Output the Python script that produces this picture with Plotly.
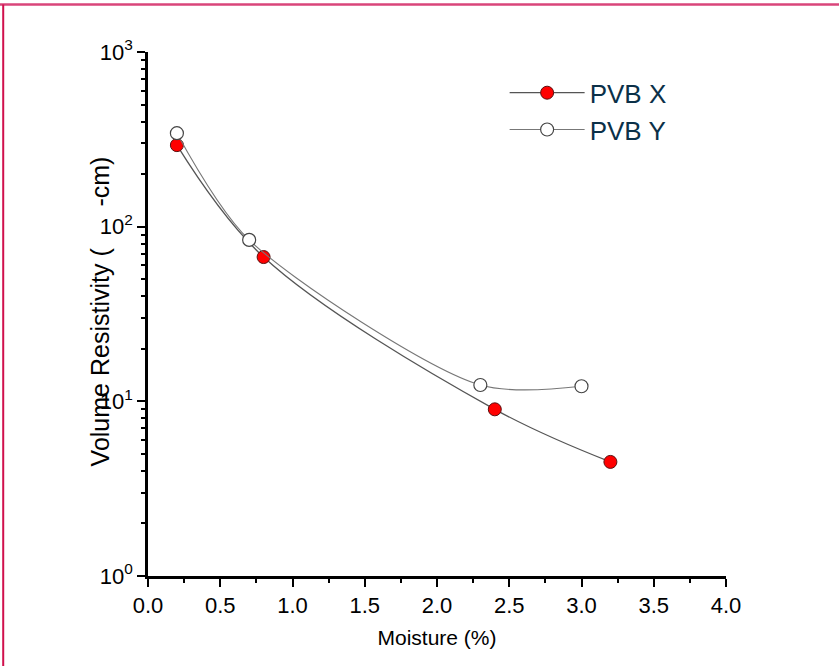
import plotly.graph_objects as go

# Data
x_pvbx = [0.2, 0.8, 2.4, 3.2]
y_pvbx = [293, 67, 9.0, 4.5]
x_pvby = [0.2, 0.7, 2.3, 3.0]
y_pvby = [343, 84, 12.4, 12.2]

x_ticks = [0.0, 0.5, 1.0, 1.5, 2.0, 2.5, 3.0, 3.5, 4.0]
x_ticklabels = ["0.0", "0.5", "1.0", "1.5", "2.0", "2.5", "3.0", "3.5", "4.0"]
y_label_alias = {"1": "10<sup>0</sup>", "10": "10<sup>1</sup>",
                 "100": "10<sup>2</sup>", "1000": "10<sup>3</sup>"}

FONT = "Liberation Sans, Arial, sans-serif"

fig = go.Figure()
fig.add_trace(go.Scatter(
    x=x_pvbx, y=y_pvbx, name="PVB X", mode="lines+markers",
    line=dict(color="#555555", width=1.3, shape="spline", smoothing=1.0),
    marker=dict(color="#ff0000", size=13, line=dict(color="#5a1010", width=1)),
))
fig.add_trace(go.Scatter(
    x=x_pvby, y=y_pvby, name="PVB Y", mode="lines+markers",
    line=dict(color="#777777", width=1.1, shape="spline", smoothing=0.8),
    marker=dict(color="#ffffff", size=13, line=dict(color="#444444", width=1.2)),
))

fig.update_layout(
    width=839, height=666,
    margin=dict(l=148, r=113, t=52, b=90, autoexpand=False),
    paper_bgcolor="white", plot_bgcolor="white",
    font=dict(family=FONT, color="black"),
    showlegend=True,
    legend=dict(
        x=0.617, y=0.967, xanchor="left", yanchor="top",
        font=dict(size=26, color="#0b3048", family=FONT),
        itemwidth=75, bgcolor="rgba(0,0,0,0)", tracegroupgap=0,
    ),
    xaxis=dict(
        range=[0, 4], tickmode="array", tickvals=x_ticks, ticktext=x_ticklabels,
        ticks="outside", ticklen=8, tickwidth=2, tickcolor="black",
        showline=True, linecolor="black", linewidth=2.5, showgrid=False, zeroline=False,
        tickfont=dict(size=22, family=FONT, color="black"), automargin=False,
        minor=dict(ticks="outside", ticklen=4, tickwidth=2, tickcolor="black", dtick=0.25, tick0=0, showgrid=False),
        title=dict(text="Moisture (%)", font=dict(size=21, family=FONT, color="black"), standoff=14),
    ),
    yaxis=dict(
        type="log", range=[0, 3], tickmode="linear", tick0=0, dtick=1,
        exponentformat="none", labelalias=y_label_alias,
        ticks="outside", ticklen=8, tickwidth=2, tickcolor="black",
        showline=True, linecolor="black", linewidth=2.5, showgrid=False, zeroline=False,
        tickfont=dict(size=22, family=FONT, color="black"), automargin=False,
        minor=dict(ticks="outside", ticklen=4, tickwidth=1.5, tickcolor="black",
                   dtick="D1", showgrid=False),
    ),
    annotations=[dict(
        text="Volume Resistivity (      -cm)", textangle=-90,
        xref="paper", yref="paper", x=-0.083, y=0.505,
        xanchor="center", yanchor="middle", showarrow=False,
        font=dict(size=25, family=FONT, color="black"),
    )],
    shapes=[
        dict(type="line", xref="paper", yref="paper", x0=-0.26, x1=1.2, y0=1.0906, y1=1.0906,
             line=dict(color="#d9457a", width=2.5)),
        dict(type="line", xref="paper", yref="paper", x0=-0.2505, x1=-0.2505, y0=1.0906, y1=-0.18,
             line=dict(color="#d0104c", width=2)),
    ],
)

fig.write_html("out.html", config={"displayModeBar": False},
               post_script="document.body.style.margin='0';")
